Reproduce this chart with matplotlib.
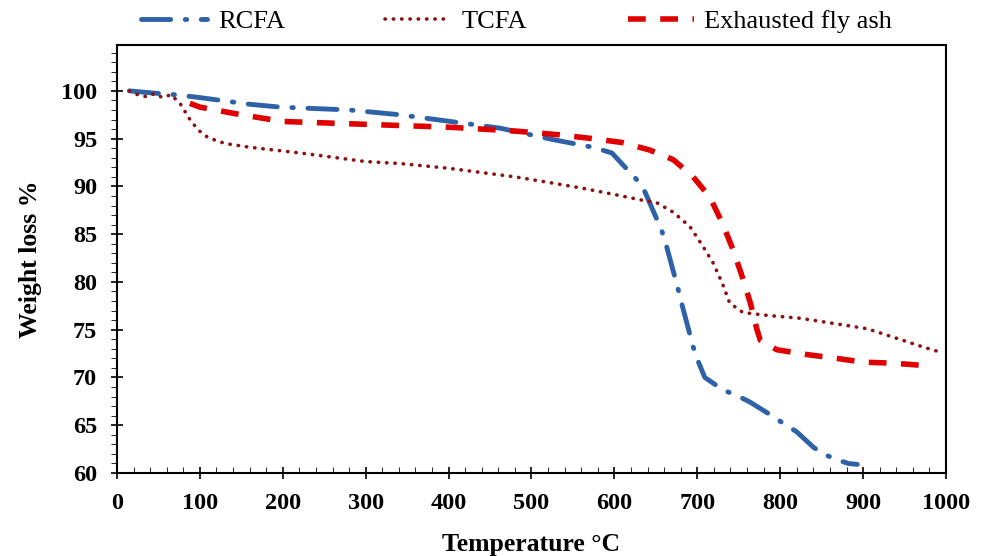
import matplotlib

matplotlib.use('Agg')

import matplotlib.pyplot as plt
from matplotlib.ticker import MultipleLocator

# readings taken off the TGA curves
rcfa_t = [15, 40, 70, 100, 160, 197, 281, 341, 402, 462, 526, 574, 597, 627, 637,
          657, 663, 677, 681, 695, 701, 709, 731, 748, 764, 788, 802, 820, 840,
          852, 868, 882, 893]
rcfa_w = [100.0, 99.8, 99.6, 99.3, 98.6, 98.3, 98.0, 97.5, 96.8, 96.1, 94.9, 94.1,
          93.5, 90.7, 89.4, 85.4, 83.7, 79.2, 77.8, 73.2, 71.7, 70.0, 68.7, 68.1,
          67.4, 66.1, 65.3, 64.3, 62.7, 62.0, 61.4, 61.0, 60.9]

tcfa_t = [15, 25, 35, 45, 55, 65, 76, 88, 98, 110, 130, 160, 221, 300, 341, 400,
          480, 522, 562, 603, 631, 651, 671, 691, 707, 719, 730, 739, 755, 784,
          824, 876, 905, 944, 972, 995]
tcfa_w = [100.0, 99.6, 99.4, 99.7, 99.3, 99.6, 98.7, 97.0, 95.9, 95.1, 94.5, 94.1,
          93.5, 92.6, 92.4, 91.9, 91.0, 90.4, 89.8, 89.1, 88.6, 88.3, 87.3, 85.8,
          83.7, 82.0, 79.9, 77.8, 76.8, 76.5, 76.2, 75.5, 75.1, 74.0, 73.2, 72.6]

exh_t = [88, 100, 150, 200, 300, 400, 480, 534, 574, 609, 643, 671, 695, 715, 730,
         743, 754, 764, 772, 776, 796, 832, 868, 900, 936, 981]
exh_w = [98.7, 98.3, 97.5, 96.8, 96.5, 96.2, 95.8, 95.4, 95.0, 94.6, 93.8, 92.8,
         91.0, 88.9, 86.2, 83.4, 80.6, 77.8, 75.0, 73.9, 72.9, 72.4, 72.0, 71.6,
         71.5, 71.2]

plt.rcParams['font.family'] = ['Liberation Serif', 'DejaVu Serif']

fig = plt.figure(figsize=(9.88, 5.56), dpi=100)
ax = fig.add_axes([0.1184, 0.1493, 0.8391, 0.7697])

ax.plot(rcfa_t, rcfa_w, color='#2E62A8', lw=3.5, dashes=(6, 3, 0.3, 3),
        dash_capstyle='round', label='RCFA')
ax.plot(tcfa_t, tcfa_w, color='#8B1010', lw=2.6, dashes=(0.1, 2.2),
        dash_capstyle='round', label='TCFA')
ax.plot(exh_t, exh_w, color='#E00000', lw=4, dashes=(3.2, 2.6),
        label='Exhausted fly ash')

ax.set_xlim(0, 1000)
ax.set_ylim(60, 104.8)
ax.xaxis.set_major_locator(MultipleLocator(100))
ax.xaxis.set_minor_locator(MultipleLocator(20))
ax.yaxis.set_minor_locator(MultipleLocator(1))
ax.set_yticks(range(60, 101, 5))
ax.tick_params(axis='both', which='major', direction='inout', length=8.5,
               width=1.2, labelsize=17.5, pad=10)
ax.tick_params(axis='x', which='minor', direction='in', length=4.5)
ax.tick_params(axis='y', which='minor', direction='out', length=4.5)
for lab in ax.get_xticklabels() + ax.get_yticklabels():
    lab.set_fontweight('bold')
for s in ax.spines.values():
    s.set_linewidth(1.5)

ax.set_xlabel('Temperature °C', fontsize=18.5, fontweight='bold', labelpad=14)
ax.set_ylabel('Weight loss %', fontsize=18.5, fontweight='bold', labelpad=14)

fig.legend(loc='center', bbox_to_anchor=(0.523, 0.962), ncol=3, frameon=False,
           fontsize=19, handlelength=2.5, columnspacing=3.8, handletextpad=0.4)

fig.savefig('out.png', dpi=100)
